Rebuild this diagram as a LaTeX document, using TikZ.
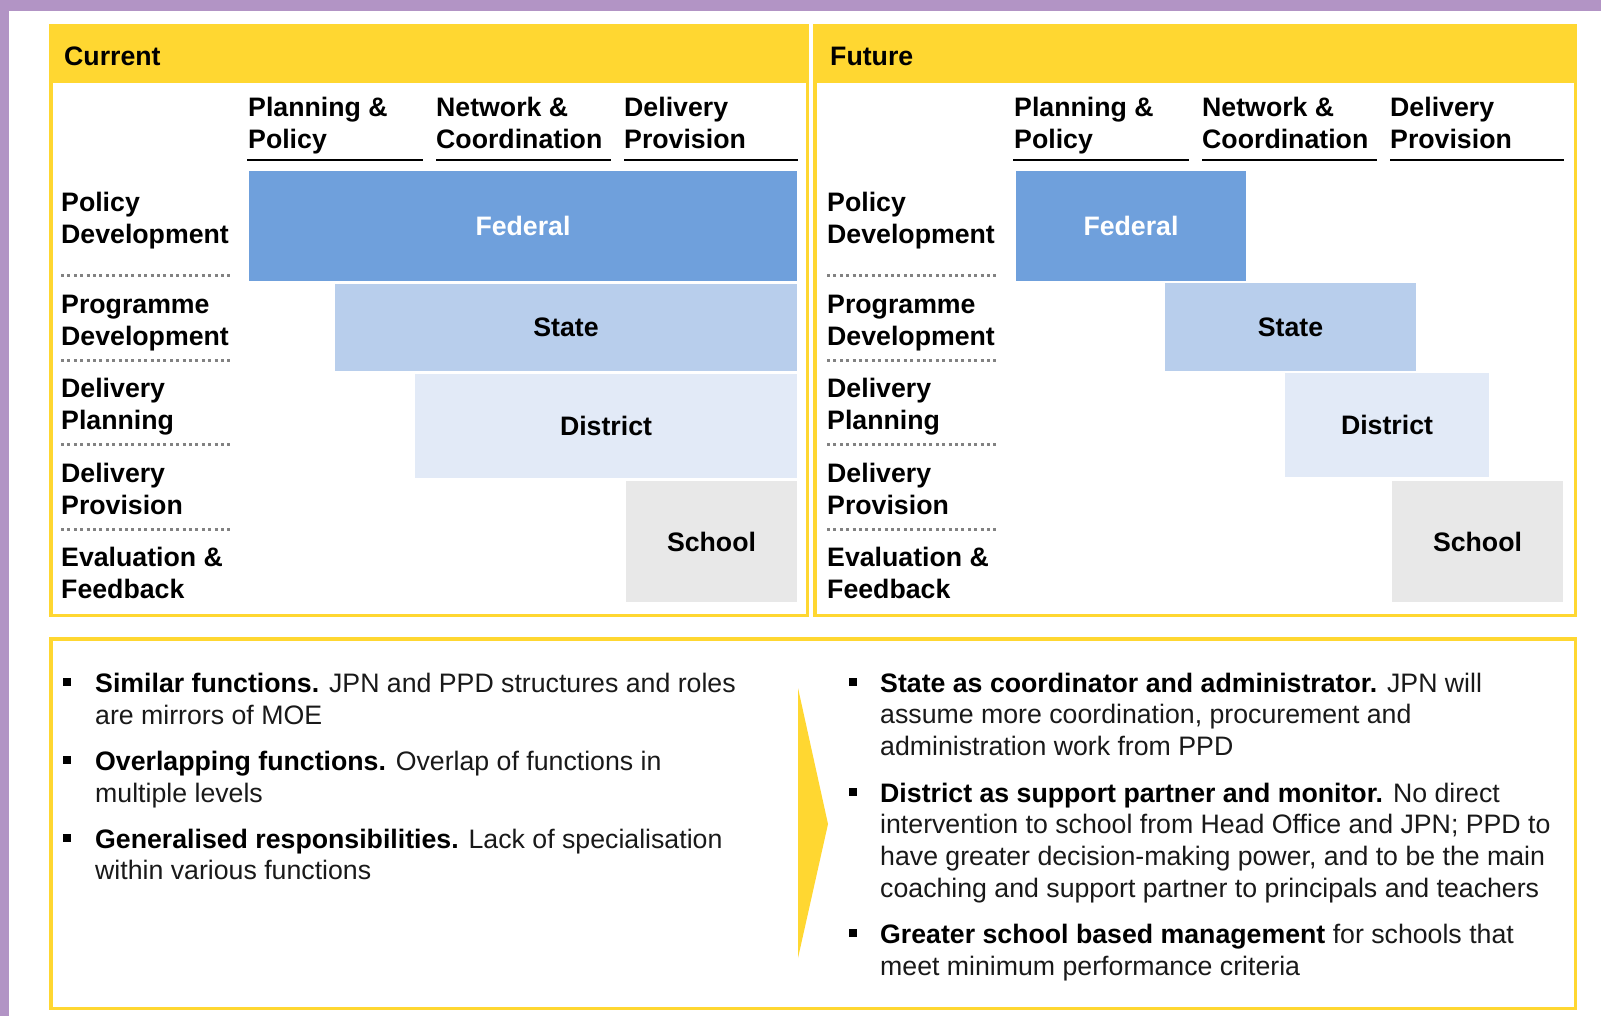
\documentclass[tikz,border=0pt]{standalone}
\usepackage{fontspec}
\setmainfont{Liberation Sans}
\definecolor{ylw}{RGB}{255,215,49}
\definecolor{purp}{RGB}{178,148,197}
\definecolor{fedc}{RGB}{111,160,220}
\definecolor{statec}{RGB}{184,206,236}
\definecolor{distc}{RGB}{226,234,247}
\definecolor{schoolc}{RGB}{232,232,232}
\definecolor{dotc}{RGB}{130,130,130}
\definecolor{txt}{RGB}{25,25,25}
\newcommand{\regbox}[8]{%
  \fill[#6] (#2,#3) rectangle (#4,#5);
  \node[boxtxt,text=#7] (#1) at ({(#2+#4)/2},{(#3+#5)/2}) {#8};}
\begin{document}
\begin{tikzpicture}[x=1pt,y=-1pt,
  lbl/.style={anchor=base west,inner sep=0pt,font=\fontsize{26.7}{32}\selectfont\bfseries},
  body/.style={anchor=base west,inner sep=0pt,font=\fontsize{26.7}{32}\selectfont,text=txt},
  boxtxt/.style={font=\fontsize{26.7}{32}\selectfont\bfseries,inner sep=0pt},
  uline/.style={line width=2pt,black},
  dotline/.style={line width=3pt,dotc,dash pattern=on 3pt off 3.4pt},
  panel/.style={draw=ylw,line width=3.5pt},
  bul/.style={fill=black,minimum size=8.5pt,inner sep=0pt}]
\useasboundingbox (0,0) rectangle (1601,1016);
\fill[white] (0,0) rectangle (1601,1016);
% purple frame
\fill[purp] (0,0) rectangle (1601,11);
\fill[purp] (0,0) rectangle (9,1016);
% panels
\fill[ylw] (49,24) rectangle (809,83);
\draw[panel] (50.75,25.75) rectangle (807.25,615.25);
\fill[ylw] (813,24) rectangle (1577,83);
\draw[panel] (814.75,25.75) rectangle (1575.25,615.25);
\node[lbl] (curhead) at (64,66) {Current};
\node[lbl] (futhead) at (830,66) {Future};
% headers, row labels, rules
\foreach \o/\p in {0/c,766/f}{
  \node[lbl] (\p-h1a) at (248+\o,116.5) {Planning \&};
  \node[lbl] (\p-h1b) at (248+\o,148.5) {Policy};
  \node[lbl] (\p-h2a) at (436+\o,116.5) {Network \&};
  \node[lbl] (\p-h2b) at (436+\o,148.5) {Coordination};
  \node[lbl] (\p-h3a) at (624+\o,116.5) {Delivery};
  \node[lbl] (\p-h3b) at (624+\o,148.5) {Provision};
  \draw[uline] (247+\o,160.5) -- (423+\o,160.5);
  \draw[uline] (436+\o,160.5) -- (611+\o,160.5);
  \draw[uline] (624+\o,160.5) -- (798+\o,160.5);
  \node[lbl] (\p-r1a) at (61+\o,212) {Policy};
  \node[lbl] (\p-r1b) at (61+\o,244) {Development};
  \node[lbl] (\p-r2a) at (61+\o,313) {Programme};
  \node[lbl] (\p-r2b) at (61+\o,345) {Development};
  \node[lbl] (\p-r3a) at (61+\o,397) {Delivery};
  \node[lbl] (\p-r3b) at (61+\o,429) {Planning};
  \node[lbl] (\p-r4a) at (61+\o,482) {Delivery};
  \node[lbl] (\p-r4b) at (61+\o,514) {Provision};
  \node[lbl] (\p-r5a) at (61+\o,566) {Evaluation \&};
  \node[lbl] (\p-r5b) at (61+\o,598) {Feedback};
  \foreach \yy in {276,360,444,529}{
    \draw[dotline] (61+\o,\yy) -- (233+\o,\yy);
  }
}
% current boxes
\regbox{cfed}{249}{171}{797}{281}{fedc}{white}{Federal}
\regbox{cstate}{335}{284}{797}{371}{statec}{black}{State}
\regbox{cdist}{415}{374}{797}{478}{distc}{black}{District}
\regbox{cschool}{626}{481}{797}{602}{schoolc}{black}{School}
% future boxes
\regbox{ffed}{1016}{171}{1246}{281}{fedc}{white}{Federal}
\regbox{fstate}{1165}{283}{1416}{371}{statec}{black}{State}
\regbox{fdist}{1285}{373}{1489}{477}{distc}{black}{District}
\regbox{fschool}{1392}{481}{1563}{602}{schoolc}{black}{School}
% bottom box
\draw[panel] (50.75,638.75) rectangle (1575.25,1008.25);
\fill[ylw] (798,688) -- (828,824) -- (798,958) -- cycle;
% left bullets
\node[bul] (lb1) at (67,682) {};
\node[bul] (lb2) at (67,760) {};
\node[bul] (lb3) at (67,838) {};
\node[body] (l1a) at (95,692) {{\bfseries\color{black}Similar functions.} JPN and PPD structures and roles};
\node[body] (l1b) at (95,724) {are mirrors of MOE};
\node[body] (l2a) at (95,770) {{\bfseries\color{black}Overlapping functions.} Overlap of functions in};
\node[body] (l2b) at (95,802) {multiple levels};
\node[body] (l3a) at (95,848) {{\bfseries\color{black}Generalised responsibilities.} Lack of specialisation};
\node[body] (l3b) at (95,879) {within various functions};
% right bullets
\node[bul] (rb1) at (853,682) {};
\node[bul] (rb2) at (853,792) {};
\node[bul] (rb3) at (853,933) {};
\node[body] (r1a) at (880,692) {{\bfseries\color{black}State as coordinator and administrator.} JPN will};
\node[body] (r1b) at (880,723.7) {assume more coordination, procurement and};
\node[body] (r1c) at (880,755.4) {administration work from PPD};
\node[body] (r2a) at (880,802) {{\bfseries\color{black}District as support partner and monitor.} No direct};
\node[body] (r2b) at (880,833.7) {intervention to school from Head Office and JPN; PPD to};
\node[body] (r2c) at (880,865.4) {have greater decision-making power, and to be the main};
\node[body] (r2d) at (880,897) {coaching and support partner to principals and teachers};
\node[body] (r3a) at (880,943) {{\bfseries\color{black}Greater school based management} for schools that};
\node[body] (r3b) at (880,975) {meet minimum performance criteria};
\end{tikzpicture}
\end{document}
